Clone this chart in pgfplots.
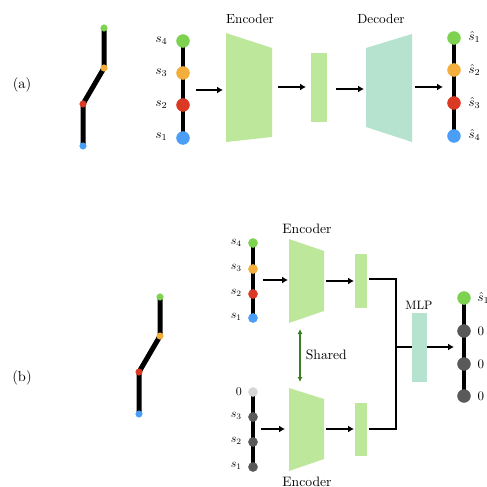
\documentclass[border=0pt]{standalone}
\usepackage{pgfplots}
\pgfplotsset{compat=1.18}
\usetikzlibrary{arrows.meta}
\definecolor{cg}{HTML}{7DD350}
\definecolor{co}{HTML}{F3AE3C}
\definecolor{cr}{HTML}{DA3A24}
\definecolor{cb}{HTML}{4A9EF5}
\definecolor{enc}{HTML}{BDE89B}
\definecolor{dec}{HTML}{B5E3D0}
\definecolor{dg}{HTML}{595959}
\definecolor{lg}{HTML}{D6D6D6}
\definecolor{sh}{HTML}{3A7D22}
\begin{document}
\begin{tikzpicture}
\begin{axis}[width=487bp,height=487bp,scale only axis,xmin=0,xmax=487,ymin=0,ymax=487,
  y dir=reverse,axis lines=none,clip=false,enlargelimits=false]
% ---------- panel (a) ----------
\node[scale=1.45] at (axis cs:22,85) {(a)};
% skeleton
\addplot[line width=5bp,black] coordinates {(104,28) (104,68) (83,104) (83,146)};
\addplot[only marks,mark=*,mark size=3.3,cg,mark options={draw=none}] coordinates {(104,28)};
\addplot[only marks,mark=*,mark size=3.3,co,mark options={draw=none}] coordinates {(104,68)};
\addplot[only marks,mark=*,mark size=3.3,cr,mark options={draw=none}] coordinates {(83,104)};
\addplot[only marks,mark=*,mark size=3.3,cb,mark options={draw=none}] coordinates {(83,146)};
% input chain
\addplot[line width=4bp,black] coordinates {(183,41) (183,138)};
\addplot[only marks,mark=*,mark size=6.5,cg,mark options={draw=none}] coordinates {(183,41)};
\addplot[only marks,mark=*,mark size=6.5,co,mark options={draw=none}] coordinates {(183,73)};
\addplot[only marks,mark=*,mark size=6.5,cr,mark options={draw=none}] coordinates {(183,105)};
\addplot[only marks,mark=*,mark size=6.5,cb,mark options={draw=none}] coordinates {(183,138)};
\node[anchor=east,scale=1.3] at (axis cs:172,41) {$s_4$};
\node[anchor=east,scale=1.3] at (axis cs:172,73) {$s_3$};
\node[anchor=east,scale=1.3] at (axis cs:172,105) {$s_2$};
\node[anchor=east,scale=1.3] at (axis cs:172,137) {$s_1$};
% arrows
\addplot[-{Latex[length=6bp,width=7bp]},line width=1.5bp] coordinates {(196,90) (223,90)};
\addplot[-{Latex[length=6bp,width=7bp]},line width=1.5bp] coordinates {(278,87) (306,87)};
\addplot[-{Latex[length=6bp,width=7bp]},line width=1.5bp] coordinates {(336,89) (364,89)};
\addplot[-{Latex[length=6bp,width=7bp]},line width=1.5bp] coordinates {(415,87) (443,87)};
% encoder
\addplot[fill=enc,draw=none] coordinates {(226,33) (272,48) (272,137) (226,142)} -- cycle;
\node[scale=1.33] at (axis cs:250,19) {Encoder};
% latent
\addplot[fill=enc,draw=none] coordinates {(311,53) (327,53) (327,122) (311,122)} -- cycle;
% decoder
\addplot[fill=dec,draw=none] coordinates {(366,48) (412,34) (412,142) (366,127)} -- cycle;
\node[scale=1.33] at (axis cs:381,19) {Decoder};
% output chain
\addplot[line width=4bp,black] coordinates {(454,38) (454,136)};
\addplot[only marks,mark=*,mark size=6.5,cg,mark options={draw=none}] coordinates {(454,38)};
\addplot[only marks,mark=*,mark size=6.5,co,mark options={draw=none}] coordinates {(454,70)};
\addplot[only marks,mark=*,mark size=6.5,cr,mark options={draw=none}] coordinates {(454,103)};
\addplot[only marks,mark=*,mark size=6.5,cb,mark options={draw=none}] coordinates {(454,136)};
\node[anchor=west,scale=1.3] at (axis cs:464,37) {$\hat{s}_1$};
\node[anchor=west,scale=1.3] at (axis cs:464,70) {$\hat{s}_2$};
\node[anchor=west,scale=1.3] at (axis cs:464,103) {$\hat{s}_3$};
\node[anchor=west,scale=1.3] at (axis cs:464,135) {$\hat{s}_4$};
% ---------- panel (b) ----------
\node[scale=1.45] at (axis cs:22,378) {(b)};
\addplot[line width=5bp,black] coordinates {(160,297) (160,336) (139,372) (139,414)};
\addplot[only marks,mark=*,mark size=3.3,cg,mark options={draw=none}] coordinates {(160,297)};
\addplot[only marks,mark=*,mark size=3.3,co,mark options={draw=none}] coordinates {(160,336)};
\addplot[only marks,mark=*,mark size=3.3,cr,mark options={draw=none}] coordinates {(139,372)};
\addplot[only marks,mark=*,mark size=3.3,cb,mark options={draw=none}] coordinates {(139,414)};
% upper chain
\addplot[line width=3.5bp,black] coordinates {(253,243) (253,318)};
\addplot[only marks,mark=*,mark size=4.6,cg,mark options={draw=none}] coordinates {(253,243)};
\addplot[only marks,mark=*,mark size=4.6,co,mark options={draw=none}] coordinates {(253,269)};
\addplot[only marks,mark=*,mark size=4.6,cr,mark options={draw=none}] coordinates {(253,294)};
\addplot[only marks,mark=*,mark size=4.6,cb,mark options={draw=none}] coordinates {(253,318)};
\node[anchor=east,scale=1.2] at (axis cs:246,243) {$s_4$};
\node[anchor=east,scale=1.2] at (axis cs:246,268) {$s_3$};
\node[anchor=east,scale=1.2] at (axis cs:246,293) {$s_2$};
\node[anchor=east,scale=1.2] at (axis cs:246,317) {$s_1$};
% lower chain
\addplot[line width=3.5bp,black] coordinates {(253,392) (253,467)};
\addplot[only marks,mark=*,mark size=4.6,lg,mark options={draw=none}] coordinates {(253,392)};
\addplot[only marks,mark=*,mark size=4.6,dg,mark options={draw=none}] coordinates {(253,417) (253,442) (253,467)};
\node[anchor=east,scale=1.2] at (axis cs:246,392) {$0$};
\node[anchor=east,scale=1.2] at (axis cs:246,416) {$s_3$};
\node[anchor=east,scale=1.2] at (axis cs:246,441) {$s_2$};
\node[anchor=east,scale=1.2] at (axis cs:246,466) {$s_1$};
% arrows
\addplot[-{Latex[length=6bp,width=7bp]},line width=1.5bp] coordinates {(263,280) (288,280)};
\addplot[-{Latex[length=6bp,width=7bp]},line width=1.5bp] coordinates {(326,281) (354,281)};
\addplot[-{Latex[length=6bp,width=7bp]},line width=1.5bp] coordinates {(261,429) (285,429)};
\addplot[-{Latex[length=6bp,width=7bp]},line width=1.5bp] coordinates {(326,429) (354,429)};
% encoders
\addplot[fill=enc,draw=none] coordinates {(289,239) (324,251) (324,311) (289,323)} -- cycle;
\addplot[fill=enc,draw=none] coordinates {(289,388) (324,399) (324,459) (289,471)} -- cycle;
\node[scale=1.37] at (axis cs:307,229) {Encoder};
\node[scale=1.37] at (axis cs:307,482) {Encoder};
% latents
\addplot[fill=enc,draw=none] coordinates {(355,254) (367,254) (367,308) (355,308)} -- cycle;
\addplot[fill=enc,draw=none] coordinates {(355,403) (367,403) (367,456) (355,456)} -- cycle;
% connectors
\addplot[line width=1.5bp,black] coordinates {(369,279) (396,279) (396,429) (369,429)};
\addplot[line width=1.5bp,black] coordinates {(396,347) (412,347)};
% MLP
\addplot[fill=dec,draw=none] coordinates {(412,313) (427,313) (427,382) (412,382)} -- cycle;
\node[scale=1.22] at (axis cs:419,305) {MLP};
\addplot[-{Latex[length=6bp,width=7bp]},line width=1.5bp] coordinates {(427,347) (454,347)};
% shared
\addplot[{Latex[length=5bp,width=5bp]}-{Latex[length=5bp,width=5bp]},line width=1.2bp,sh] coordinates {(300,329) (300,382)};
\node[anchor=west,scale=1.37] at (axis cs:301,355) {Shared};
% output (b)
\addplot[line width=4bp,black] coordinates {(464,298) (464,396)};
\addplot[only marks,mark=*,mark size=6.5,cg,mark options={draw=none}] coordinates {(464,298)};
\addplot[only marks,mark=*,mark size=6.5,dg,mark options={draw=none}] coordinates {(464,331) (464,364) (464,396)};
\node[anchor=west,scale=1.3] at (axis cs:473,298) {$\hat{s}_1$};
\node[anchor=west,scale=1.3] at (axis cs:473,331) {$0$};
\node[anchor=west,scale=1.3] at (axis cs:473,364) {$0$};
\node[anchor=west,scale=1.3] at (axis cs:473,396) {$0$};
\end{axis}
\pgfresetboundingbox
\path[use as bounding box] (current axis.south west) rectangle (current axis.north east);
\end{tikzpicture}
\end{document}
